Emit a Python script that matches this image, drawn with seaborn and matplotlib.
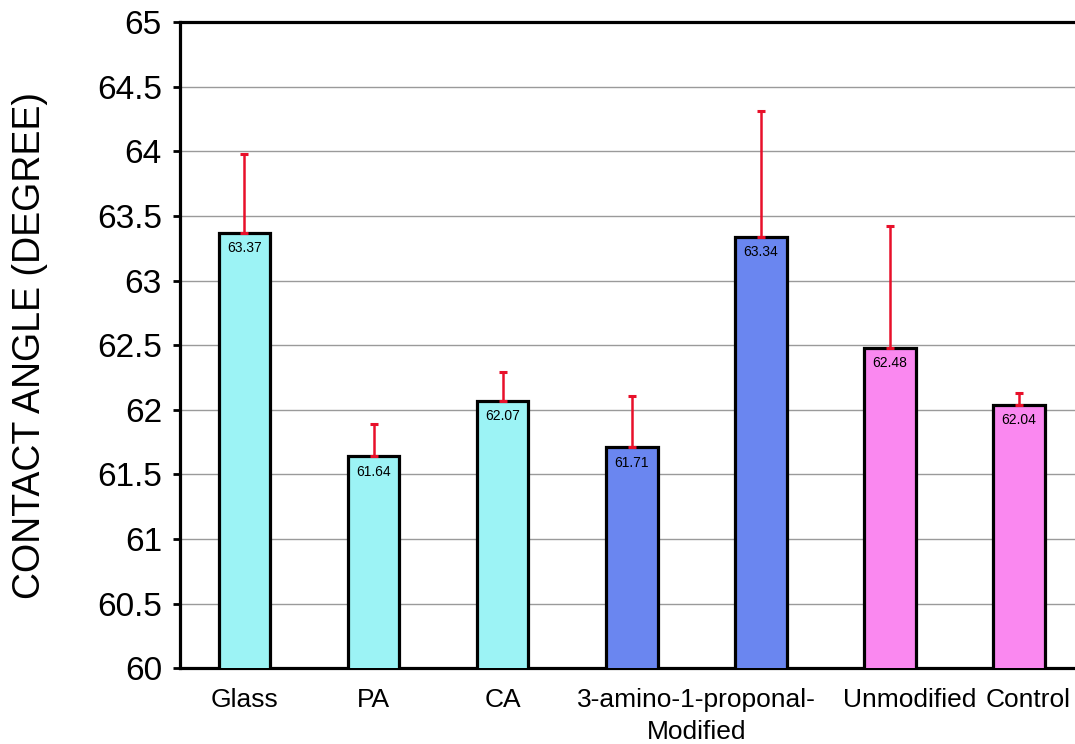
import numpy as np
import pandas as pd
import matplotlib
matplotlib.use("Agg")
import matplotlib.pyplot as plt
from matplotlib.ticker import FuncFormatter, MultipleLocator, FixedLocator
import seaborn as sns

# values
bar_ids = ["Glass", "PA", "CA", "AP-1", "AP-2", "Unmodified", "Control"]
groups = ["ref", "ref", "ref", "amino", "amino", "plain", "plain"]
angle = [63.37, 61.64, 62.07, 61.71, 63.34, 62.48, 62.04]
err_up = [0.61, 0.25, 0.22, 0.40, 0.97, 0.94, 0.09]
tick_text = ["Glass", "PA", "CA", "3-amino-1-proponal-\nModified", "Unmodified", "Control"]
tick_pos = [0, 1, 2, 3.5, 5.15, 6.07]

pal = {"ref": "#9cf3f5", "amino": "#6a86f0", "plain": "#fa88f0"}

df = pd.DataFrame({"sample": bar_ids, "angle": angle, "group": groups})

sns.set_style("white", {"text.color": "black", "xtick.color": "black",
                        "ytick.color": "black", "axes.labelcolor": "black"})
plt.rcParams["font.family"] = ["Liberation Sans", "DejaVu Sans"]

fig = plt.figure(figsize=(10.75, 7.44), dpi=100)
ax = fig.add_axes([0.1674, 0.102, 0.8405, 0.868])

sns.barplot(data=df, x="sample", y="angle", hue="group", palette=pal,
            dodge=False, width=0.4, edgecolor="black", linewidth=2.3,
            saturation=1, legend=False, ax=ax, zorder=3)

ax.errorbar(x=np.arange(len(angle)), y=angle,
            yerr=[np.zeros(len(angle)), err_up], fmt="none",
            ecolor="#e8102a", elinewidth=1.8, capsize=3, capthick=2.2, zorder=4)

for i, v in enumerate(angle):
    ax.text(i, v - 0.065, f"{v:.2f}", ha="center", va="top", fontsize=10,
            color="black", zorder=5)

ax.set_ylim(60, 65)
ax.set_xlim(-0.5, 6.5)
ax.yaxis.set_major_locator(MultipleLocator(0.5))
ax.yaxis.set_major_formatter(FuncFormatter(lambda v, p: f"{v:g}"))
ax.yaxis.grid(True, color="#9a9a9a", linewidth=1.0, zorder=0)
ax.set_axisbelow(True)

ax.set_xticks(tick_pos)
ax.set_xticklabels(tick_text, fontsize=19, linespacing=1.45)
ax.xaxis.set_minor_locator(FixedLocator(np.arange(-0.5, 7, 1.0)))
ax.tick_params(axis="x", which="major", length=0, pad=14)
ax.tick_params(axis="x", which="minor", length=5, width=2, direction="out", color="black")
ax.tick_params(axis="y", which="major", length=5, width=2, direction="out",
               labelsize=24, pad=8, color="black", left=True)

ax.set_xlabel("")
ax.set_ylabel("CONTACT ANGLE (DEGREE)", fontsize=27, labelpad=35)

for s in ax.spines.values():
    s.set_visible(True)
    s.set_color("black")
    s.set_linewidth(2.3)

fig.savefig("out.png", dpi=100)
